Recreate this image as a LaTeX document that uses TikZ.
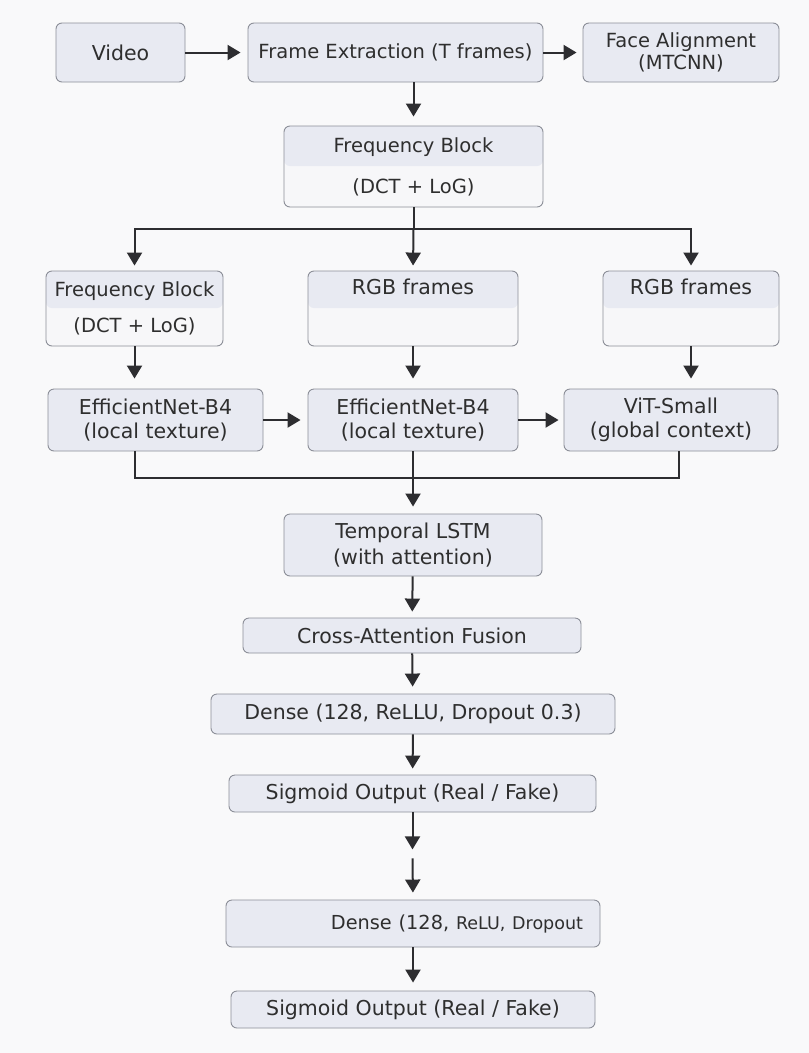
\documentclass[tikz,border=0pt]{standalone}
\usepackage{fontspec}
\setmainfont{DejaVu Sans}
\usepackage{xcolor}
\usetikzlibrary{arrows.meta,positioning,calc}
\definecolor{pageBg}{RGB}{249,249,250}
\definecolor{boxFill}{RGB}{232,234,242}
\definecolor{boxLow}{RGB}{247,247,249}
\definecolor{boxLine}{RGB}{140,143,152}
\definecolor{arrowDark}{RGB}{45,45,48}
\newcommand{\twolines}[3]{#1\\[#3]#2}

\begin{document}
\begin{tikzpicture}[x=1pt,y=-1pt,
    block/.style={draw=boxLine, line width=0.9pt, fill=boxFill, rounded corners=6pt,
        inner sep=0pt, align=center, font=\fontsize{20.5}{24.6}\selectfont, text=black!82},
    smallfont/.style={font=\fontsize{19.5}{23.4}\selectfont},
    splitblock/.style={block, fill=boxLow,
        path picture={\fill[boxFill] (path picture bounding box.north west)
            rectangle ([yshift=-#1]path picture bounding box.north east);}},
    arr/.style={draw=arrowDark, line width=2pt, -{Triangle[length=13pt,width=15pt]}},
    link/.style={draw=arrowDark, line width=2pt},
]
\useasboundingbox[fill=pageBg] (0,0) rectangle (809,1053);

% =========================
% Input row
% =========================
\node[block, minimum width=129pt, minimum height=59pt] (video) at (120.5,52.5) {Video};
\node[block, smallfont, minimum width=295pt, minimum height=59pt] (frames) at (395.5,52.5) {Frame Extraction (T frames)};
\node[block, smallfont, minimum width=196pt, minimum height=59pt] (face) at (681,52.5) {\twolines{Face Alignment}{(MTCNN)}{-2pt}};

\node[splitblock=40pt, smallfont, minimum width=259pt, minimum height=81pt] (freq) at (413.5,166.5)
    {\twolines{Frequency Block}{(DCT + LoG)}{17.5pt}};

% =========================
% Three branches
% =========================
\node[splitblock=37pt, smallfont, minimum width=177pt, minimum height=75pt] (freqA) at (134.5,308.5)
    {\twolines{Frequency Block}{(DCT + LoG)}{12.5pt}};
\node[splitblock=37pt, minimum width=210pt, minimum height=75pt] (rgbA) at (413,308.5)
    {\twolines{RGB frames}{\strut}{11.5pt}};
\node[splitblock=37pt, minimum width=176pt, minimum height=75pt] (rgbB) at (691,308.5)
    {\twolines{RGB frames}{\strut}{11.5pt}};

\node[block, minimum width=215pt, minimum height=62pt] (effA) at (155.5,420)
    {\twolines{EfficientNet-B4}{(local texture)}{0pt}};
\node[block, minimum width=210pt, minimum height=62pt] (effB) at (413,420)
    {\twolines{EfficientNet-B4}{(local texture)}{0pt}};
\node[block, minimum width=214pt, minimum height=62pt] (vit) at (671,420)
    {\twolines{ViT-Small}{(global context)}{0pt}};

% =========================
% Fusion and head
% =========================
\node[block, minimum width=258pt, minimum height=62pt] (lstm) at (413,545)
    {\twolines{Temporal LSTM}{(with attention)}{1.5pt}};
\node[block, minimum width=338pt, minimum height=35pt] (cross) at (412,635.5) {Cross-Attention Fusion};
\node[block, minimum width=404pt, minimum height=40pt] (dense) at (413,714) {Dense (128, ReLLU, Dropout 0.3)};
\node[block, minimum width=367pt, minimum height=37pt] (sigm) at (412.5,793.5) {Sigmoid Output (Real / Fake)};
\node[block, minimum width=374pt, minimum height=47pt, text width=340pt, align=right] (denseB) at (413,923.5)
    {{\fontsize{19.3}{23}\selectfont Dense (128,} {\fontsize{17.5}{21}\selectfont ReLU, Dropout}};
\node[block, minimum width=364pt, minimum height=37pt] (sigmB) at (413,1009.5) {Sigmoid Output (Real / Fake)};

% =========================
% Connectors
% =========================
\draw[arr, shorten >=7pt] (video) -- (frames);
\draw[arr, shorten >=6pt] (frames) -- (face);
\draw[arr, shorten >=9pt] (frames.south -| freq.north) -- (freq.north);

\draw[link] (freq.south) -- ++(0,22) coordinate (fork);
\draw[arr, shorten >=5pt] (fork) -| (freqA.north);
\draw[arr, shorten >=5pt] (fork) -- (rgbA.north);
\draw[arr, shorten >=5pt] (fork) -| (rgbB.north);

\draw[arr, shorten >=10pt] (freqA.south) -- (freqA.south |- effA.north);
\draw[arr, shorten >=10pt] (rgbA.south) -- (effB.north);
\draw[arr, shorten >=10pt] (rgbB.south) -- (rgbB.south |- vit.north);
\draw[arr, shorten >=7pt] (effA) -- (effB);
\draw[arr, shorten >=5pt] (effB) -- (vit);

% merge into the LSTM
\coordinate (join) at ($(effB.south)+(0,27)$);
\draw[link] (effA.south -| freqA.south) |- (join);
\draw[link] ([xshift=8pt]vit.south) |- (join);
\draw[arr, shorten >=7pt] (effB.south) -- (lstm.north);

\draw[arr, shorten >=6pt] (lstm) -- (cross);
\draw[arr, shorten >=7pt] (cross) -- (dense);
\draw[arr, shorten >=6pt] (dense) -- (sigm);
\draw[arr] (sigm.south) -- ++(0,37) coordinate (gapEnd);
\draw[arr, shorten >=7pt] ($(gapEnd)+(0,9)$) -- (denseB.north);
\draw[arr, shorten >=8pt] (denseB) -- (sigmB);

\end{tikzpicture}
\end{document}
